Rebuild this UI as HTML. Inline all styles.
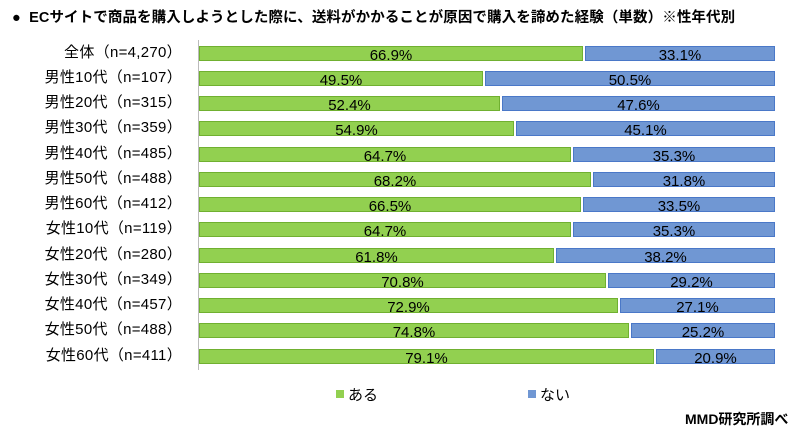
<!DOCTYPE html><html><head><meta charset="utf-8"><style>
body{margin:0;width:800px;height:436px;background:#fff;font-family:"Liberation Sans","Noto Sans CJK JP",sans-serif;position:relative;overflow:hidden;color:#000}
.t{position:absolute;left:12px;top:6px;font-size:14.5px;font-weight:bold;white-space:nowrap;letter-spacing:0.1px}
.l{position:absolute;right:618px;font-size:15px;white-space:nowrap;line-height:16px;letter-spacing:0.3px}
.g,.b{position:absolute;height:15px;box-sizing:border-box;font-size:15px;text-align:center;line-height:17px}
.g{background:#92d050;border:1px solid #70b030}
.b{background:#7097d3;border:1px solid #4a78c8}
.ax{position:absolute;left:198px;top:40px;width:1px;height:330px;background:#bbb}
</style></head><body>
<div class="t">●&nbsp; ECサイトで商品を購入しようとした際に、送料がかかることが原因で購入を諦めた経験（単数）※性年代別</div>
<div class="ax"></div>
<div id="c"></div>
<div style="position:absolute;left:336px;top:390px;width:8px;height:8px;background:#92d050"></div>
<div style="position:absolute;left:348px;top:384px;font-size:15px">ある</div>
<div style="position:absolute;left:528px;top:390px;width:8px;height:8px;background:#7097d3"></div>
<div style="position:absolute;left:540px;top:384px;font-size:15px">ない</div>
<div style="position:absolute;left:685px;top:409px;font-size:14px;font-weight:bold">MMD研究所調べ</div>
<script>
var d=[["全体（n=4,270）",66.9],["男性10代（n=107）",49.5],["男性20代（n=315）",52.4],["男性30代（n=359）",54.9],["男性40代（n=485）",64.7],["男性50代（n=488）",68.2],["男性60代（n=412）",66.5],["女性10代（n=119）",64.7],["女性20代（n=280）",61.8],["女性30代（n=349）",70.8],["女性40代（n=457）",72.9],["女性50代（n=488）",74.8],["女性60代（n=411）",79.1]];
var h="",W=576,X=199;
d.forEach(function(r,i){var y=45.5+i*25.25,w=Math.round(W*r[1]/100),n=(100-r[1]).toFixed(1);
h+='<div class="l" style="top:'+(y-1)+'px">'+r[0]+'</div>';
h+='<div class="g" style="left:'+X+'px;top:'+y+'px;width:'+(w-1)+'px">'+r[1].toFixed(1)+'%</div>';
h+='<div class="b" style="left:'+(X+w+1)+'px;top:'+y+'px;width:'+(W-w-1)+'px">'+n+'%</div>';});
document.getElementById("c").innerHTML=h;
</script>
</body></html>
